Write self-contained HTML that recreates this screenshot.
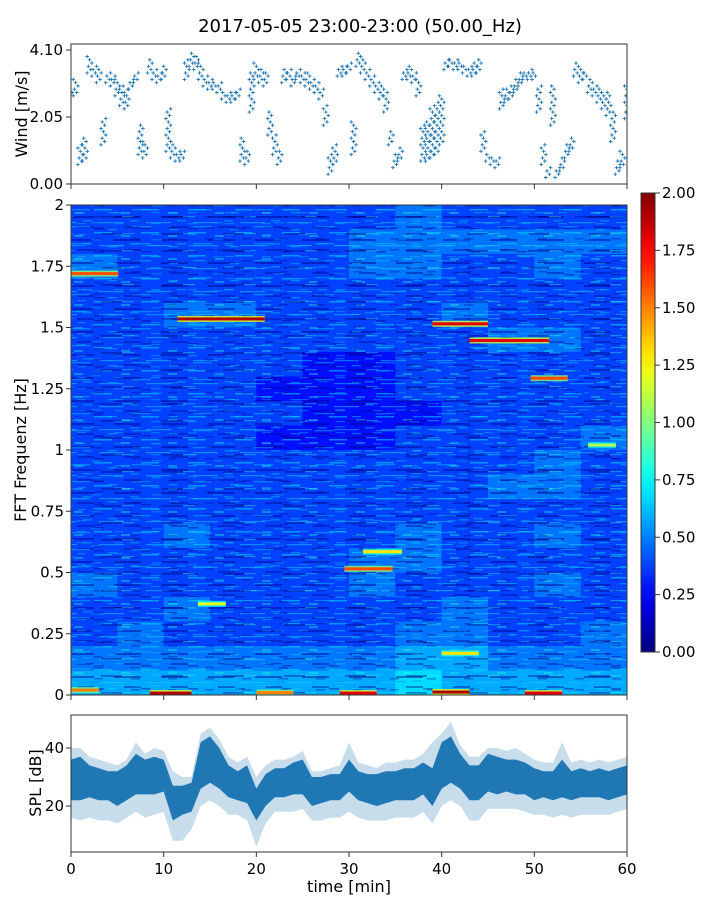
<!DOCTYPE html>
<html><head><meta charset="utf-8"><style>
html,body{margin:0;padding:0;background:#fff;}
svg{display:block;font-family:"DejaVu Sans","Liberation Sans",sans-serif;}
</style></head><body>
<svg id="fig" width="720" height="900" viewBox="0 0 720 900" xmlns="http://www.w3.org/2000/svg">
<defs>
<pattern id="streakA" patternUnits="userSpaceOnUse" width="47" height="23">
<rect x="0" y="2" width="18" height="1.5" fill="#00d8ff" opacity="0.55"/>
<rect x="27" y="5" width="9" height="2" fill="#30ffd0" opacity="0.35"/>
<rect x="20" y="9" width="27" height="2" fill="#00008a" opacity="0.45"/>
<rect x="5" y="15" width="25" height="1.2" fill="#20e0ff" opacity="0.45"/>
<rect x="36" y="13" width="9" height="1.5" fill="#00b0ff" opacity="0.5"/>
<rect x="30" y="19" width="17" height="2" fill="#000090" opacity="0.4"/>
<rect x="0" y="21" width="10" height="1.5" fill="#00007a" opacity="0.4"/>
</pattern>
<pattern id="streakB" patternUnits="userSpaceOnUse" width="61" height="17">
<rect x="10" y="5" width="19" height="1.3" fill="#00c0ff" opacity="0.5"/>
<rect x="40" y="12" width="21" height="1.8" fill="#000070" opacity="0.4"/>
<rect x="0" y="12" width="12" height="1.2" fill="#40ffd0" opacity="0.35"/>
<rect x="30" y="1" width="10" height="1.5" fill="#0090ff" opacity="0.5"/>
<rect x="47" y="8" width="9" height="1.3" fill="#00e0ff" opacity="0.4"/>
</pattern>
<pattern id="streakC" patternUnits="userSpaceOnUse" width="37" height="11">
<rect x="3" y="3" width="9" height="1.2" fill="#10d0ff" opacity="0.35"/>
<rect x="20" y="7" width="9" height="1.5" fill="#000095" opacity="0.35"/>
</pattern>
<linearGradient id="cbGrad" x1="0" y1="1" x2="0" y2="0"></linearGradient>
<clipPath id="specClip"><rect x="71" y="205" width="556" height="490"/></clipPath>
<clipPath id="windClip"><rect x="71" y="44" width="556" height="140"/></clipPath>
<clipPath id="splClip"><rect x="71" y="715" width="556" height="137"/></clipPath>
</defs>
<text x="360" y="32" font-size="18" text-anchor="middle">2017-05-05 23:00-23:00 (50.00_Hz)</text>
<g id="wind"></g>
<g id="spec"></g>
<g id="cbar"></g>
<g id="spl"></g>
</svg>
<script>
// ---- data ----
const windTimes = Array.from({length:121},(_,i)=>i*0.5);
const windLo = [2.7,2.7,0.6,0.7,3.4,3.3,3.1,1.2,3.1,3.0,2.7,2.4,2.3,2.9,3.1,0.9,0.8,3.4,3.2,3.1,3.2,1.0,0.8,0.7,0.7,3.2,3.6,3.5,3.2,3.0,2.9,2.9,2.8,2.6,2.5,2.5,2.6,0.7,0.6,2.2,3.2,3.1,3.0,1.5,0.9,0.6,3.1,3.2,3.0,3.2,3.1,3.0,2.9,2.8,2.6,1.8,0.3,0.6,3.3,3.3,3.4,0.9,3.6,3.4,3.2,3.0,2.8,2.6,2.2,1.2,0.5,0.7,3.2,3.2,3.1,2.7,0.7,0.7,0.8,0.9,1.2,3.5,3.6,3.5,3.5,3.4,3.3,3.3,3.4,1.0,0.7,0.6,0.5,2.3,2.5,2.6,2.8,3.0,3.2,3.2,3.2,2.2,0.6,0.2,1.8,0.2,0.4,0.8,1.0,3.3,3.1,3.2,2.8,2.7,2.5,2.3,2.1,1.3,0.3,0.5,2.0];
const windHi = [2.9,3.2,1.2,1.4,3.9,3.6,3.5,2.0,3.4,3.3,3.2,3.0,2.9,3.2,3.4,1.8,1.3,3.8,3.5,3.4,3.6,2.3,1.3,1.0,1.0,3.8,4.0,3.9,3.7,3.3,3.2,3.1,3.1,2.8,2.8,2.8,2.9,1.4,1.0,3.4,3.7,3.5,3.4,2.2,1.5,1.0,3.5,3.5,3.3,3.5,3.4,3.4,3.2,3.1,2.9,2.4,0.9,1.2,3.6,3.6,3.7,1.9,4.0,3.9,3.5,3.3,3.1,3.0,2.8,1.6,0.9,1.1,3.5,3.6,3.4,3.2,1.8,1.9,2.3,2.5,2.7,3.8,3.8,3.8,3.7,3.6,3.6,3.7,3.8,1.6,0.9,0.8,0.8,2.9,2.9,3.0,3.2,3.4,3.4,3.5,3.4,3.0,1.2,0.5,3.0,0.5,0.8,1.2,1.4,3.7,3.5,3.4,3.2,3.0,2.9,2.8,2.8,2.2,0.7,1.0,3.1];
const windTicks = [0.00, 2.05, 4.10];

const splTimes = Array.from({length:61},(_,i)=>i);
const splCoreLo = [22,22,23,22,22,20,22,24,24,24,25,15,17,18,26,28,26,23,22,21,15,20,23,23,24,24,20,21,22,22,25,22,21,20,21,22,22,22,24,20,26,28,26,22,22,25,24,25,24,24,22,23,22,23,22,23,23,23,22,23,24];
const splCoreHi = [36,37,34,33,32,32,34,38,36,37,36,27,27,28,42,44,40,34,32,34,26,31,33,33,35,36,30,30,31,31,36,32,31,31,32,32,33,33,35,33,42,44,38,34,34,38,37,36,36,35,33,32,32,36,32,33,32,33,32,33,34];
const splExtLo = [16,15,16,15,15,14,16,18,16,17,18,8,8,12,20,22,20,17,17,15,6,14,18,18,18,19,15,15,16,16,18,16,15,15,15,16,16,16,18,14,20,22,20,15,15,19,19,19,19,18,17,17,16,17,16,17,17,17,17,18,19];
const splExtHi = [40,40,37,36,35,34,36,42,38,40,39,32,30,30,45,47,43,37,35,37,30,34,36,36,37,39,32,32,33,34,42,35,34,33,35,35,36,36,38,42,45,49,41,37,37,40,40,39,40,38,36,35,35,42,35,36,35,36,35,36,37];
const splTicks = [20, 40];

// spectrogram coarse means: rows top (1.9-2.0 Hz) -> bottom (0-0.1 Hz), 12 columns of 5 min; value = digit/10
const specGrid = [
"333333343333","333333444444","433333443343","333333333333","334433334333",
"333333333443","333332233333","333322233333","333332223333","333322233334",
"333333333343","333333333443","333333333333","334333343343","333333443333",
"433333433343","334333334333","343333344334","444444455444","555555565555"];
const streakT0 = [0, 11.5, 39, 43, 49.6, 31.5, 29.5, 13.7, 55.8, 40, 8.5, 29, 39, 49, 0, 20];
const streakT1 = [5.1, 20.9, 45, 51.6, 53.6, 35.7, 34.7, 16.7, 58.8, 44, 13, 33, 43, 53, 3, 24];
const streakF  = [1.72, 1.535, 1.515, 1.447, 1.293, 0.585, 0.515, 0.372, 1.02, 0.17, 0.008, 0.008, 0.012, 0.008, 0.02, 0.01];
const streakV  = [1.6, 1.9, 1.8, 1.8, 1.6, 1.3, 1.6, 1.2, 1.1, 1.3, 1.9, 1.8, 1.9, 1.8, 1.5, 1.5];
const freqTicks = [0,0.25,0.5,0.75,1,1.25,1.5,1.75,2];
const freqTickLabels = ["0","0.25","0.5","0.75","1","1.25","1.5","1.75","2"];
const cbTicks = [0,0.25,0.5,0.75,1,1.25,1.5,1.75,2];
const timeTicks = [0,10,20,30,40,50,60];

// ---- helpers ----
const NS="http://www.w3.org/2000/svg";
function mk(tag, attrs, parent){const e=document.createElementNS(NS,tag);for(const k in attrs)e.setAttribute(k,attrs[k]);if(parent)parent.appendChild(e);return e;}
const X0=71,X1=627;
const xT = t => X0 + t/60*(X1-X0);
const yW = v => 184 - v*(134/4.1);
const yF = f => 695 - f/2*490;
const yS = v => 806 - (v-20)*2.9;
const yCB = v => 652 - v/2*459;
function clamp(a){return Math.max(0,Math.min(1,a));}
function jet(val){const v=clamp(val/2);const r=clamp(1.5-Math.abs(4*v-3)),g=clamp(1.5-Math.abs(4*v-2)),b=clamp(1.5-Math.abs(4*v-1));
 return `rgb(${Math.round(r*255)},${Math.round(g*255)},${Math.round(b*255)})`;}

// ---- wind panel ----
const wind=document.getElementById('wind');
const wpts=mk('g',{'clip-path':'url(#windClip)'},wind);


let d='';
const offs=[-2,1,-1,2,0];
for(let i=0;i<windTimes.length;i++){
  const xc=xT(windTimes[i]);
  let k=0;
  for(let v=windLo[i]; v<=windHi[i]+1e-6; v+=0.1){
    const x=xc+offs[k%5]*1.2, y=yW(v);
    d+=`M${(x-1.8).toFixed(1)} ${y.toFixed(1)}h3.6M${x.toFixed(1)} ${(y-1.8).toFixed(1)}v3.6`;
    k++;
  }
}
mk('path',{d:d,stroke:'#1f77b4','stroke-width':0.9,fill:'none'},wpts);
mk('rect',{x:71,y:44,width:556,height:140,fill:'none',stroke:'#333','stroke-width':1},wind);
windTicks.forEach(v=>{
  const y=yW(v);
  mk('line',{x1:66,x2:71,y1:y,y2:y,stroke:'#333'},wind);
  const t=mk('text',{x:63,y:y+5,'font-size':15,'text-anchor':'end'},wind);t.textContent=v.toFixed(2);
  
  
});
timeTicks.forEach(v=>{mk('line',{x1:xT(v),x2:xT(v),y1:184,y2:189,stroke:'#333'},wind);});
const wl=mk('text',{x:0,y:0,'font-size':16,'text-anchor':'middle',transform:'translate(27,114) rotate(-90)'},wind);
wl.textContent='Wind [m/s]';



// ---- spectrogram ----
const spec=document.getElementById('spec');
const sg=mk('g',{'clip-path':'url(#specClip)'},spec);
const cw=(X1-X0)/12;
for(let r=0;r<specGrid.length;r++){
  const fTop=2-r*0.1;
  for(let c=0;c<12;c++){
    const v=parseInt(specGrid[r][c])/10+0.08;
    const cell=mk('rect',{x:xT(c*5),y:yF(fTop),width:cw+0.5,height:yF(fTop-0.1)-yF(fTop)+0.5,fill:jet(v)},sg);
    
    
  }
}
mk('rect',{x:71,y:205,width:556,height:490,fill:'url(#streakA)'},sg);
mk('rect',{x:71,y:205,width:556,height:490,fill:'url(#streakB)'},sg);
mk('rect',{x:71,y:205,width:556,height:490,fill:'url(#streakC)'},sg);
for(let i=0;i<streakF.length;i++){
  const x=xT(streakT0[i]), w=xT(streakT1[i])-x, y=yF(streakF[i]);
  const s1=mk('rect',{x:x,y:y-3,width:w,height:6,fill:jet(streakV[i]*0.65),opacity:0.8},sg);
  
  
  const s2=mk('rect',{x:x,y:y-1.5,width:w,height:3,fill:jet(streakV[i])},sg);
  
  
}
mk('rect',{x:71,y:205,width:556,height:490,fill:'none',stroke:'#333','stroke-width':1},spec);
freqTicks.forEach((f,i)=>{
  const y=yF(f);
  mk('line',{x1:66,x2:71,y1:y,y2:y,stroke:'#333'},spec);
  const t=mk('text',{x:64,y:y+5,'font-size':15,'text-anchor':'end'},spec);t.textContent=freqTickLabels[i];
  
  
});
timeTicks.forEach(v=>{mk('line',{x1:xT(v),x2:xT(v),y1:695,y2:700,stroke:'#333'},spec);});
const fl=mk('text',{x:0,y:0,'font-size':16,'text-anchor':'middle',transform:'translate(26,450) rotate(-90)'},spec);
fl.textContent='FFT Frequenz [Hz]';



// ---- colorbar ----
const grad=document.getElementById('cbGrad');
for(let i=0;i<=20;i++){mk('stop',{offset:(i/20),'stop-color':jet(i/10)},grad);}
const cbar=document.getElementById('cbar');
mk('rect',{x:641,y:193,width:14,height:459,fill:'url(#cbGrad)',stroke:'#333','stroke-width':1},cbar);
cbTicks.forEach(v=>{
  const y=yCB(v);
  mk('line',{x1:655,x2:660,y1:y,y2:y,stroke:'#333'},cbar);
  const t=mk('text',{x:662,y:y+5,'font-size':15},cbar);t.textContent=v.toFixed(2);
  
  
});

// ---- SPL panel ----
const spl=document.getElementById('spl');
const pg=mk('g',{'clip-path':'url(#splClip)'},spl);
function band(lo,hi){let p='M';for(let i=0;i<splTimes.length;i++)p+=`${xT(splTimes[i]).toFixed(1)} ${yS(hi[i]).toFixed(1)}L`;
 for(let i=splTimes.length-1;i>=0;i--)p+=`${xT(splTimes[i]).toFixed(1)} ${yS(lo[i]).toFixed(1)}${i>0?'L':'Z'}`;return p;}
const ext=mk('path',{d:band(splExtLo,splExtHi),fill:'#1f77b4',opacity:0.25},pg);


const core=mk('path',{d:band(splCoreLo,splCoreHi),fill:'#1f77b4'},pg);


mk('rect',{x:71,y:715,width:556,height:137,fill:'none',stroke:'#333','stroke-width':1},spl);
splTicks.forEach(v=>{
  const y=yS(v);
  mk('line',{x1:66,x2:71,y1:y,y2:y,stroke:'#333'},spl);
  const t=mk('text',{x:64,y:y+5,'font-size':15,'text-anchor':'end'},spl);t.textContent=String(v);
  
  
});
timeTicks.forEach(v=>{
  const x=xT(v);
  mk('line',{x1:x,x2:x,y1:852,y2:857,stroke:'#333'},spl);
  const t=mk('text',{x:x,y:874,'font-size':15,'text-anchor':'middle'},spl);t.textContent=String(v);
  
  
});
const sl=mk('text',{x:0,y:0,'font-size':16,'text-anchor':'middle',transform:'translate(41,783) rotate(-90)'},spl);
sl.textContent='SPL [dB]';


const xl=mk('text',{x:349,y:892,'font-size':16,'text-anchor':'middle'},spl);
xl.textContent='time [min]';


</script>
</body></html>
